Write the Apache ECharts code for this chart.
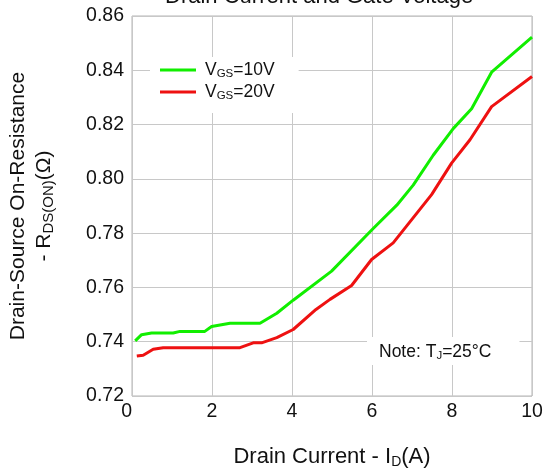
<!DOCTYPE html>
<html><head><meta charset="utf-8">
<script src="https://cdn.jsdelivr.net/npm/echarts@6/dist/echarts.min.js"></script>
<style>html,body{margin:0;padding:0;background:#fff}#c{width:545px;height:475px}</style>
</head><body><div id="c"></div>
<script>
var titleText = 'Drain Current and Gate Voltage';
var xTicks = [0, 2, 4, 6, 8, 10];
var yTicks = [0.72, 0.74, 0.76, 0.78, 0.80, 0.82, 0.84, 0.86];
var seriesNames = ['VGS=10V', 'VGS=20V'];
var idVgs10 = [0.08, 0.24, 0.49, 1.03, 1.2, 1.82, 1.99, 2.45, 3.2, 3.62, 4.03, 4.99, 6.03, 6.62, 7.03, 7.53, 8.03, 8.49, 8.99, 10.0];
var rVgs10  = [0.7403, 0.7426, 0.7432, 0.7432, 0.7438, 0.7438, 0.7456, 0.7468, 0.7468, 0.7505, 0.7553, 0.766, 0.7817, 0.7903, 0.7977, 0.8087, 0.8185, 0.8258, 0.8393, 0.8522];
var idVgs20 = [0.12, 0.28, 0.53, 0.78, 2.7, 3.03, 3.24, 3.62, 4.03, 4.6, 4.95, 5.49, 5.99, 6.53, 7.49, 7.99, 8.45, 8.99, 10.0];
var rVgs20  = [0.7347, 0.735, 0.7372, 0.7378, 0.7378, 0.7396, 0.7396, 0.7415, 0.7445, 0.7519, 0.7556, 0.7607, 0.7703, 0.7764, 0.7942, 0.8058, 0.8144, 0.8266, 0.8377];

function pairs(xs, ys) { return xs.map(function (x, i) { return [x, ys[i]]; }); }
var FONT = 'Liberation Sans, Arial, sans-serif';
var TXT = '#111';
function richSet(main, sub, lh, drop) {
  return {
    n: { fontFamily: FONT, fontSize: main, color: TXT, lineHeight: lh },
    s: { fontFamily: FONT, fontSize: sub, color: TXT, lineHeight: lh - drop, padding: [drop, 0, 0, 0] }
  };
}
var chart = echarts.init(document.getElementById('c'), null, { renderer: 'canvas' });
chart.setOption({
  animation: false,
  backgroundColor: '#fff',
  title: [{
    text: titleText, left: 165, top: -14, padding: 0,
    textStyle: { fontFamily: FONT, fontSize: 22, lineHeight: 22, fontWeight: 'normal', color: TXT }
  }, {
    text: '{n|Note: T}{s|J}{n|=25°C}', left: 367, top: 336,
    backgroundColor: '#fff', padding: [5, 28, 3, 12],
    textStyle: { fontWeight: 'normal', rich: richSet(17.5, 11.5, 22, 8) }
  }],
  grid: { left: 132, right: 13, top: 16, bottom: 79, show: true, borderColor: '#b4b4b4', borderWidth: 1,
          outerBoundsMode: 'none', containLabel: false },
  legend: {
    left: 150, top: 57, orient: 'vertical', itemGap: 2,
    backgroundColor: '#fff', padding: [3, 24, 11, 10],
    icon: 'rect', itemWidth: 36, itemHeight: 3,
    data: seriesNames,
    formatter: function (name) { return '{n|V}{s|GS}{n|' + name.slice(3) + '}'; },
    textStyle: { rich: richSet(17.5, 11.5, 22, 8), padding: [0, 0, 0, 4] }
  },
  xAxis: {
    type: 'value', min: xTicks[0], max: xTicks[xTicks.length - 1], interval: 2,
    name: '{n|Drain Current - I}{s|D}{n|(A)}', nameLocation: 'middle', nameGap: 49,
    nameTextStyle: { rich: richSet(22, 14, 24, 10) },
    axisLine: { show: false }, axisTick: { show: false },
    axisLabel: { fontFamily: FONT, fontSize: 19.5, color: TXT, margin: 6, alignMinLabel: 'right' },
    splitLine: { show: true, lineStyle: { color: '#c8c8c8', width: 1 } }
  },
  yAxis: {
    type: 'value', min: yTicks[0], max: yTicks[yTicks.length - 1], interval: 0.02,
    name: '{n|Drain-Source On-Resistance}\n{n|- R}{s|DS(ON)}{n|(Ω)}', nameLocation: 'middle', nameGap: 75, nameRotate: 90,
    nameTextStyle: { align: 'center', rich: richSet(21, 15, 26, 10) },
    axisLine: { show: false }, axisTick: { show: false },
    axisLabel: { fontFamily: FONT, fontSize: 19.5, color: TXT, margin: 8,
                 formatter: function (v) { return v.toFixed(2); } },
    splitLine: { show: true, lineStyle: { color: '#c8c8c8', width: 1 } }
  },
  series: [
    { name: seriesNames[0], type: 'line', data: pairs(idVgs10, rVgs10), showSymbol: false,
      lineStyle: { color: '#11ee00', width: 3 }, itemStyle: { color: '#11ee00' }, z: 3 },
    { name: seriesNames[1], type: 'line', data: pairs(idVgs20, rVgs20), showSymbol: false,
      lineStyle: { color: '#ee1111', width: 3 }, itemStyle: { color: '#ee1111' }, z: 3 }
  ]
});
</script></body></html>
